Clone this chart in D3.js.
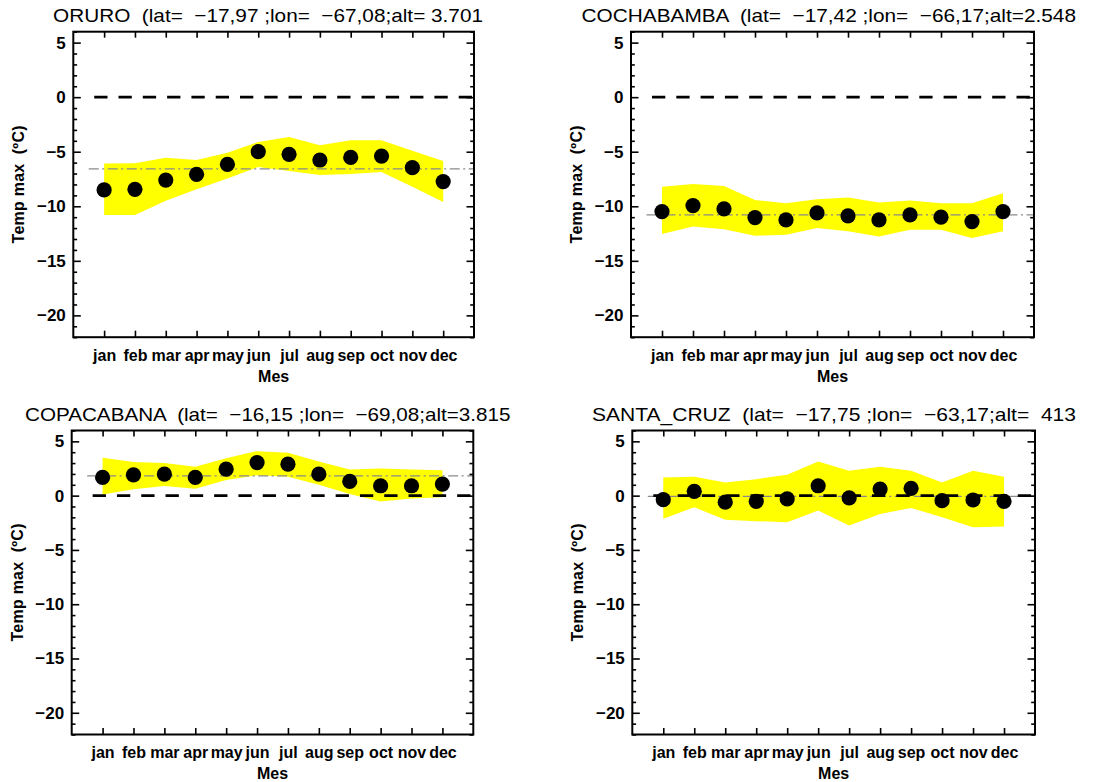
<!DOCTYPE html>
<html>
<head>
<meta charset="utf-8">
<script src="https://cdn.jsdelivr.net/npm/d3@7"></script>
<style>
  html, body { margin: 0; padding: 0; background: #fff; }
  svg { display: block; }
  text { font-family: "Liberation Sans", Arial, Helvetica, sans-serif; fill: #000; }
</style>
</head>
<body>
<svg id="chart" width="1115" height="782"></svg>
<script>
// Monthly mean of daily maximum temperature with its spread band, four stations
const months = ["jan", "feb", "mar", "apr", "may", "jun", "jul", "aug", "sep", "oct", "nov", "dec"];
const yTickValues = [5, 0, -5, -10, -15, -20];
const yDomain = [-22, 6];

const stationTitles = [
  "ORURO  (lat=  \u221217,97 ;lon=  \u221267,08;alt= 3.701",
  "COCHABAMBA  (lat=  \u221217,42 ;lon=  \u221266,17;alt=2.548",
  "COPACABANA  (lat=  \u221216,15 ;lon=  \u221269,08;alt=3.815",
  "SANTA_CRUZ  (lat=  \u221217,75 ;lon=  \u221263,17;alt=  413"
];

// ORURO
const oruroTemp  = [-8.5, -8.45, -7.6, -7.07, -6.16, -5.0, -5.24, -5.76, -5.52, -5.4, -6.46, -7.74];
const oruroUpper = [-6.07, -6.05, -5.55, -5.76, -5.1, -4.1, -3.65, -4.4, -3.95, -3.95, -4.9, -5.85];
const oruroLower = [-10.8, -10.8, -9.5, -8.45, -7.45, -6.4, -6.77, -7.13, -7.05, -6.85, -8.2, -9.6];

// COCHABAMBA
const cochabambaTemp  = [-10.49, -9.94, -10.24, -11.04, -11.25, -10.61, -10.88, -11.25, -10.79, -11.0, -11.4, -10.49];
const cochabambaUpper = [-8.2, -7.96, -8.14, -9.42, -9.73, -9.36, -9.2, -9.66, -9.48, -9.73, -9.73, -8.8];
const cochabambaLower = [-12.53, -11.86, -12.1, -12.7, -12.6, -12.0, -12.3, -12.77, -12.16, -12.16, -12.9, -12.3];

// COPACABANA
const copacabanaTemp  = [1.68, 1.92, 1.98, 1.68, 2.44, 3.05, 2.9, 1.98, 1.31, 0.91, 0.91, 1.07];
const copacabanaUpper = [3.5, 3.1, 3.0, 2.65, 3.45, 4.1, 3.95, 3.15, 2.4, 2.5, 2.4, 2.35];
const copacabanaLower = [0.1, 0.6, 0.88, 0.63, 1.43, 1.88, 1.75, 1.0, 0.15, -0.55, -0.27, -0.15];

// SANTA_CRUZ
const santaCruzTemp  = [-0.37, 0.4, -0.6, -0.52, -0.3, 0.91, -0.21, 0.61, 0.67, -0.46, -0.4, -0.52];
const santaCruzUpper = [1.68, 1.74, 1.22, 1.52, 1.92, 3.14, 2.29, 2.65, 2.29, 1.22, 2.29, 1.74];
const santaCruzLower = [-2.13, -1.07, -2.23, -2.35, -2.44, -1.37, -2.74, -1.68, -1.13, -1.98, -2.9, -2.84];

// Panel frames (pixel layout)
const panels = [
  { title: stationTitles[0], temp: oruroTemp, upper: oruroUpper, lower: oruroLower,
    left: 73.3, top: 31.7, width: 400.7, height: 305.5, titleX: 53, titleW: 430 },
  { title: stationTitles[1], temp: cochabambaTemp, upper: cochabambaUpper, lower: cochabambaLower,
    left: 631, top: 31.7, width: 403, height: 305.5, titleX: 581.5, titleW: 494.5 },
  { title: stationTitles[2], temp: copacabanaTemp, upper: copacabanaUpper, lower: copacabanaLower,
    left: 71.7, top: 430.5, width: 401.6, height: 304, titleX: 25, titleW: 485.5 },
  { title: stationTitles[3], temp: santaCruzTemp, upper: santaCruzUpper, lower: santaCruzLower,
    left: 632.3, top: 430.5, width: 402.7, height: 304, titleX: 592, titleW: 484 }
];

const svg = d3.select("#chart");
const labelFont = "'Liberation Sans', Arial, sans-serif";

panels.forEach(p => {
  const g = svg.append("g");
  const x = d3.scaleLinear().domain([0, 13]).range([p.left, p.left + p.width]);
  const y = d3.scaleLinear().domain(yDomain).range([p.top + p.height, p.top]);
  const monthPos = months.map((m, i) => i + 1);

  // spread band
  const area = d3.area()
    .x((d, i) => x(i + 1))
    .y0((d, i) => y(p.lower[i]))
    .y1((d, i) => y(p.upper[i]));
  g.append("path")
    .datum(p.temp)
    .attr("d", area)
    .attr("fill", "#ffff00");

  // annual mean (dash-dot)
  const meanVal = d3.mean(p.temp);
  g.append("line")
    .attr("x1", x(0.5)).attr("x2", x(13))
    .attr("y1", y(meanVal)).attr("y2", y(meanVal))
    .attr("stroke", "#8a8a8a")
    .attr("stroke-width", 1.2)
    .attr("stroke-dasharray", "10,3.5,2,3.5");

  // zero line
  g.append("line")
    .attr("x1", x(0.5)).attr("x2", x(13))
    .attr("y1", y(0)).attr("y2", y(0))
    .attr("stroke", "#000")
    .attr("stroke-width", 2.6)
    .attr("stroke-dasharray", "13.3,11")
    .attr("stroke-dashoffset", 18.8);

  // monthly means
  g.selectAll("circle")
    .data(p.temp)
    .join("circle")
    .attr("cx", (d, i) => x(i + 1))
    .attr("cy", d => y(d))
    .attr("r", 7.6)
    .attr("fill", "#000");

  // axes
  const styleAxis = sel => {
    sel.select(".domain").remove();
    sel.selectAll(".tick line").attr("stroke", "#000").attr("stroke-width", 1.6);
  };

  const minorVals = d3.range(yDomain[0], yDomain[1] + 1).filter(v => v % 5 !== 0);

  g.append("g").attr("transform", `translate(${p.left},0)`)
    .call(d3.axisLeft(y).tickValues(minorVals).tickSize(-3.8).tickFormat(""))
    .call(styleAxis);
  g.append("g").attr("transform", `translate(${p.left + p.width},0)`)
    .call(d3.axisRight(y).tickValues(minorVals).tickSize(-3.8).tickFormat(""))
    .call(styleAxis);

  const left = g.append("g").attr("transform", `translate(${p.left},0)`)
    .call(d3.axisLeft(y).tickValues(yTickValues).tickSize(-7.5).tickPadding(7.5))
    .call(styleAxis);
  left.selectAll("text")
    .attr("font-size", 17).attr("font-weight", "bold")
    .style("font-family", labelFont);

  g.append("g").attr("transform", `translate(${p.left + p.width},0)`)
    .call(d3.axisRight(y).tickValues(yTickValues).tickSize(-7.5).tickFormat(""))
    .call(styleAxis);

  g.append("g").attr("transform", `translate(0,${p.top})`)
    .call(d3.axisTop(x).tickValues(monthPos).tickSize(-6).tickFormat(""))
    .call(styleAxis);

  const bottom = g.append("g").attr("transform", `translate(0,${p.top + p.height})`)
    .call(d3.axisBottom(x).tickValues(monthPos).tickSize(-6.5).tickPadding(12.5)
      .tickFormat(d => months[d - 1]))
    .call(styleAxis);
  bottom.selectAll("text")
    .attr("font-size", 16).attr("font-weight", "bold")
    .style("font-family", labelFont);

  // frame
  g.append("rect")
    .attr("x", p.left).attr("y", p.top)
    .attr("width", p.width).attr("height", p.height)
    .attr("fill", "none").attr("stroke", "#000").attr("stroke-width", 2);

  // axis titles
  g.append("text")
    .attr("x", x(6.5)).attr("y", p.top + p.height + 44.5)
    .attr("text-anchor", "middle")
    .attr("font-size", 16).attr("font-weight", "bold")
    .text("Mes");

  const cy = p.top + p.height / 2;
  g.append("text")
    .attr("transform", `translate(${p.left - 49},${cy}) rotate(-90)`)
    .attr("text-anchor", "middle")
    .attr("font-size", 16).attr("font-weight", "bold")
    .style("white-space", "pre")
    .attr("textLength", 118).attr("lengthAdjust", "spacing")
    .text("Temp max  (\u00baC)");

  // station title
  g.append("text")
    .attr("x", p.titleX).attr("y", p.top - 10)
    .attr("font-size", 19)
    .style("white-space", "pre")
    .attr("textLength", p.titleW).attr("lengthAdjust", "spacingAndGlyphs")
    .text(p.title);
});
</script>
</body>
</html>
